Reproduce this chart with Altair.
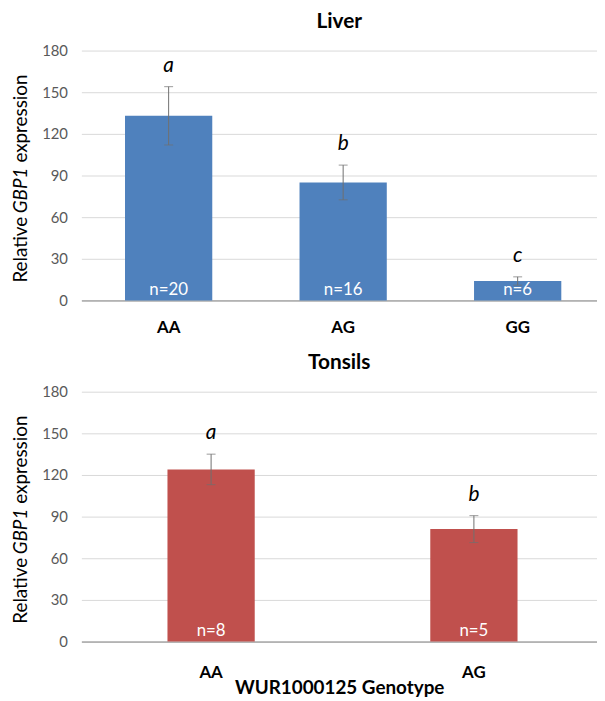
import altair as alt
import pandas as pd

# ---- data ----
liver_genotypes = ["AA", "AG", "GG"]
liver_means = [133, 85, 14]
liver_errors = [21, 12.5, 3]
liver_n = ["n=20", "n=16", "n=6"]
liver_letters = ["a", "b", "c"]

tonsil_genotypes = ["AA", "AG"]
tonsil_means = [124, 81]
tonsil_errors = [11, 9.7]
tonsil_n = ["n=8", "n=5"]
tonsil_letters = ["a", "b"]

y_ticks = [0, 30, 60, 90, 120, 150, 180]
x_title = "WUR1000125 Genotype"

FONT = "Lato"
W, H = 520, 252


def panel(genotypes, means, errors, ns, letters, color, title, scale,
          show_xtitle, label_pad):
    df = pd.DataFrame({"g": genotypes, "mean": means, "err": errors,
                       "n": ns, "letter": letters})
    df["lo"] = df["mean"] - df["err"]
    df["hi"] = df["mean"] + df["err"]

    xaxis_kw = dict(labelAngle=0, labelFontWeight="bold", labelColor="black",
                    labelFontSize=17, labelFont=FONT, ticks=False,
                    domainColor="#868686", domainWidth=1,
                    labelPadding=label_pad, grid=False)
    if show_xtitle:
        xaxis_kw.update(title=x_title, titleFont=FONT, titleFontSize=19,
                        titleFontWeight="bold", titleColor="black",
                        titlePadding=-2)
    else:
        xaxis_kw.update(title=None)

    x = alt.X("g:N", sort=genotypes, scale=scale, axis=alt.Axis(**xaxis_kw))
    yscale = alt.Scale(domain=[0, 180], nice=False)
    yaxis = alt.Axis(values=y_ticks, grid=True, gridColor="#d9d9d9",
                     gridWidth=1, domain=False, ticks=False,
                     labelColor="#595959", labelFontSize=15, labelFont=FONT,
                     labelPadding=14, title=None)

    base = alt.Chart(df)
    bars = base.mark_bar(color=color).encode(
        x=x, y=alt.Y("mean:Q", scale=yscale, axis=yaxis))
    rule = base.mark_rule(color="#6f6f6f", strokeWidth=1).encode(
        x=x, y="lo:Q", y2="hi:Q")
    cap_lo = base.mark_tick(color="#6f6f6f", size=9, thickness=1).encode(
        x=x, y="lo:Q")
    cap_hi = base.mark_tick(color="#6f6f6f", size=9, thickness=1).encode(
        x=x, y="hi:Q")
    letter = base.mark_text(font=FONT, fontSize=21, fontStyle="italic",
                            color="black", dy=-21, baseline="middle").encode(
        x=x, y="hi:Q", text="letter:N")
    ntxt = base.mark_text(font=FONT, fontSize=17, color="white", dy=-11,
                          baseline="middle").encode(
        x=x, y=alt.datum(0), text="n:N")

    # y-axis title with italic gene name
    tx = -61
    t1 = alt.Chart(pd.DataFrame({"t": ["Relative"]})).mark_text(
        font=FONT, fontSize=19, angle=270, align="left", baseline="middle",
        color="black").encode(x=alt.value(tx), y=alt.value(234), text="t:N")
    t2 = alt.Chart(pd.DataFrame({"t": ["GBP1"]})).mark_text(
        font=FONT, fontSize=19, angle=270, align="left", baseline="middle",
        fontStyle="italic", color="black").encode(
        x=alt.value(tx), y=alt.value(164), text="t:N")
    t3 = alt.Chart(pd.DataFrame({"t": ["expression"]})).mark_text(
        font=FONT, fontSize=19, angle=270, align="left", baseline="middle",
        color="black").encode(x=alt.value(tx), y=alt.value(113), text="t:N")

    return alt.layer(bars, rule, cap_lo, cap_hi, letter, ntxt, t1, t2, t3).properties(
        width=W, height=H,
        title=alt.TitleParams(title, font=FONT, fontSize=21, fontWeight="bold",
                              color="black", offset=12))


top = panel(liver_genotypes, liver_means, liver_errors, liver_n, liver_letters,
            "#4F81BD", "Liver",
            alt.Scale(paddingInner=0.5, paddingOuter=0.2273, align=0.55),
            False, 19)
bottom = panel(tonsil_genotypes, tonsil_means, tonsil_errors, tonsil_n,
               tonsil_letters, "#C0504D", "Tonsils",
               alt.Scale(paddingInner=0.668, paddingOuter=0.315, align=0.52),
               True, 23)

chart = alt.vconcat(top, bottom, spacing=17).resolve_scale(x="independent").properties(
    padding={"left": 4, "top": 0, "right": 0, "bottom": 0}
).configure_view(stroke=None)

chart.save("out.html", embed_options={"renderer": "svg", "actions": False})
